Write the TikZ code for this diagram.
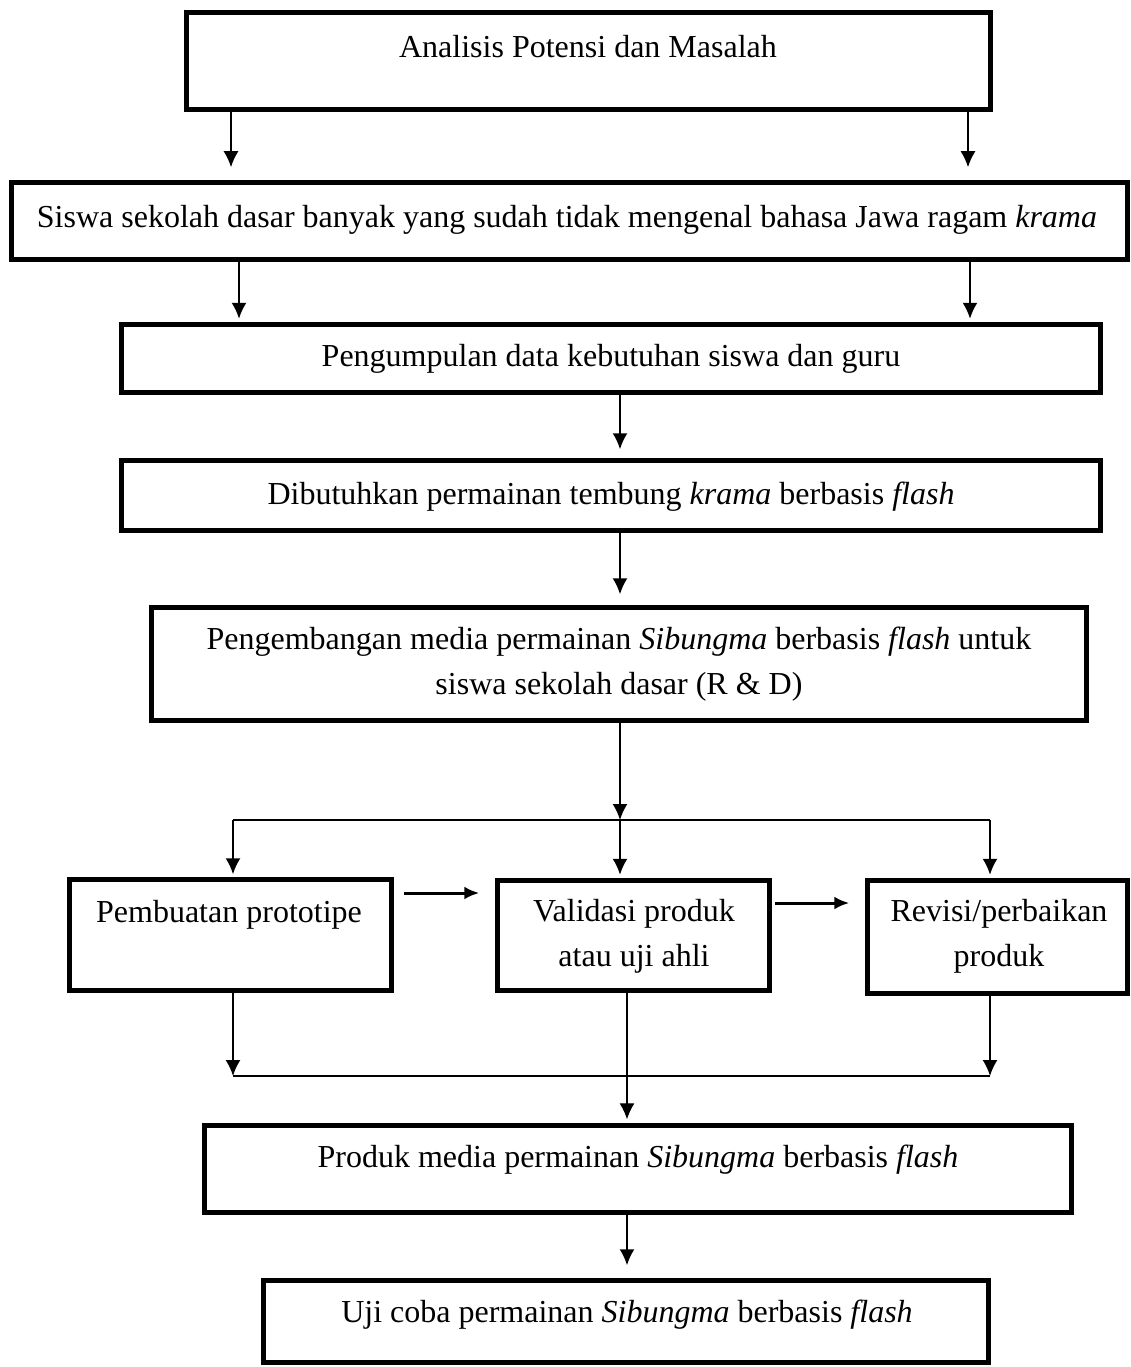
\documentclass[tikz,border=0pt]{standalone}
\usepackage{fontspec}
\setmainfont{Liberation Serif}
\usetikzlibrary{arrows.meta,calc}
\begin{document}
\begin{tikzpicture}[x=1pt,y=-1pt,
  boxnode/.style={draw,line width=5.5pt,rectangle,inner sep=0pt},
  txt/.style={font=\fontsize{32}{45}\selectfont,align=center,inner sep=0pt},
  arr/.style={line width=1.8pt,-{Latex[length=16pt,width=15pt]}},
  thickarr/.style={line width=3pt,-{Latex[length=15pt,width=13pt]}},
  ln/.style={line width=1.8pt}]
\useasboundingbox (0,0) rectangle (1130,1367);
% boxes
\node[boxnode,minimum width=804pt,minimum height=97pt] (b1) at (588.5,61) {};
\node[boxnode,minimum width=1116pt,minimum height=77pt] (b2) at (569.5,221) {};
\node[boxnode,minimum width=979pt,minimum height=68pt] (b3) at (611,358.5) {};
\node[boxnode,minimum width=979pt,minimum height=70pt] (b4) at (611,495.5) {};
\node[boxnode,minimum width=935pt,minimum height=113pt] (b5) at (619,664) {};
\node[boxnode,minimum width=322pt,minimum height=111pt] (b6) at (230.5,935) {};
\node[boxnode,minimum width=272pt,minimum height=110pt] (b7) at (633.5,935.5) {};
\node[boxnode,minimum width=260pt,minimum height=113pt] (b8) at (997.5,937) {};
\node[boxnode,minimum width=867pt,minimum height=87pt] (b9) at (638,1169) {};
\node[boxnode,minimum width=725pt,minimum height=82pt] (b10) at (626,1321.5) {};
% texts
\node[txt] (t1) at (588,47) {Analisis Potensi dan Masalah};
\node[txt] (t2) at (567,220) {Siswa sekolah dasar banyak yang sudah tidak mengenal bahasa Jawa ragam \textit{krama}};
\node[txt] (t3) at (611,359) {Pengumpulan data kebutuhan siswa dan guru};
\node[txt] (t4) at (611,497) {Dibutuhkan permainan tembung \textit{krama} berbasis \textit{flash}};
\node[txt] (t5) at (619,664) {Pengembangan media permainan \textit{Sibungma} berbasis \textit{flash} untuk\\siswa sekolah dasar (R \& D)};
\node[txt] (t6) at (229,915) {Pembuatan prototipe};
\node[txt] (t7) at (634,936) {Validasi produk\\atau uji ahli};
\node[txt] (t8) at (999,936) {Revisi/perbaikan\\produk};
\node[txt] (t9) at (638,1160) {Produk media permainan \textit{Sibungma} berbasis \textit{flash}};
\node[txt] (t10) at (627,1315) {Uji coba permainan \textit{Sibungma} berbasis \textit{flash}};
% x positions
\coordinate (xa) at (231,0);
\coordinate (xb) at (968,0);
\coordinate (xc) at (239,0);
\coordinate (xd) at (970,0);
\coordinate (xm) at (620,0);
\coordinate (xl) at (233,0);
\coordinate (xr) at (990,0);
\coordinate (xn) at (627,0);
\coordinate (J1) at (620,820);
\coordinate (HL1) at (233,820);
\coordinate (HR1) at (990,820);
\coordinate (HL2) at (233,1076);
\coordinate (HR2) at (990,1076);
\coordinate (y67) at (0,893);
\coordinate (y78) at (0,903);
% connectors
\draw[arr,shorten >=12.5pt] (b1.south -| xa) -- (b2.north -| xa);
\draw[arr,shorten >=12.5pt] (b1.south -| xb) -- (b2.north -| xb);
\draw[arr,shorten >=3pt] (b2.south -| xc) -- (b3.north -| xc);
\draw[arr,shorten >=3pt] (b2.south -| xd) -- (b3.north -| xd);
\draw[arr,shorten >=8.5pt] (b3.south -| xm) -- (b4.north -| xm);
\draw[arr,shorten >=10.5pt] (b4.south -| xm) -- (b5.north -| xm);
\draw[arr] (b5.south -| xm) -- (J1);
\draw[line width=2pt] (HL1) -- (HR1);
\draw[arr,shorten >=2.5pt] (HL1) -- (b6.north -| HL1);
\draw[arr,shorten >=3pt] (J1) -- (b7.north -| J1);
\draw[arr,shorten >=3pt] (HR1) -- (b8.north -| HR1);
\draw[thickarr,shorten <=9.5pt,shorten >=15.5pt] (b6.east |- y67) -- (b7.west |- y67);
\draw[thickarr,shorten <=2.5pt,shorten >=15.5pt] (b7.east |- y78) -- (b8.west |- y78);
\draw[arr] (b6.south -| xl) -- (HL2);
\draw[arr] (b8.south -| xr) -- (HR2);
\draw[line width=2pt] (HL2) -- (HR2);
\draw[line width=1.2pt,-{Latex[length=16pt,width=15pt]},shorten >=3.5pt] (b7.south -| xn) -- (b9.north -| xn);
\draw[arr,shorten >=12.5pt] (b9.south -| xn) -- (b10.north -| xn);
\end{tikzpicture}
\end{document}
